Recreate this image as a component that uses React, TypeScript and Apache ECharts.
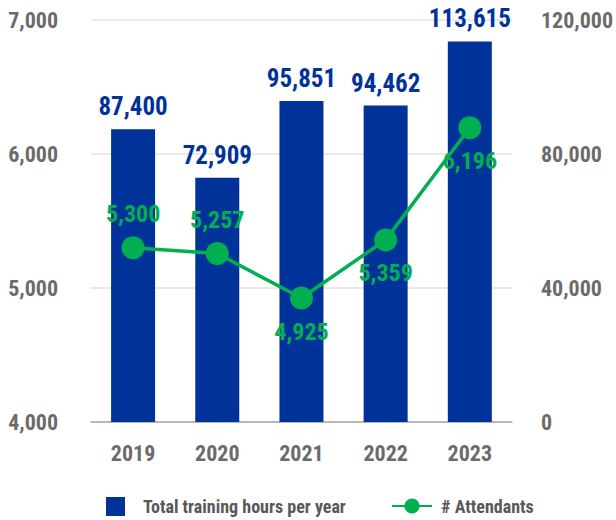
import React, { useEffect, useRef } from "react";
import * as echarts from "echarts";

const years = ["2019", "2020", "2021", "2022", "2023"];
const trainingHours = [87400, 72909, 95851, 94462, 113615];
const attendants = [5300, 5257, 4925, 5359, 6196];
const attendantLabelPos = ["top", "top", "bottom", "bottom", "bottom"];

const FONT = "'Liberation Sans Narrow', 'Arial Narrow', 'Roboto Condensed', 'Liberation Sans', sans-serif";
const BLUE = "#003399";
const GREEN = "#00B050";
const GRAY = "#6b6b6b";
const fmt = (v: number) => v.toLocaleString("en-US");

export default function App() {
  const ref = useRef<HTMLDivElement>(null);
  useEffect(() => {
    if (!ref.current) return;
    const chart = echarts.init(ref.current, null, { renderer: "svg" });
    chart.setOption({
      animation: false,
      textStyle: { fontFamily: FONT },
      grid: { left: 91, right: 101, top: 20, bottom: 98 },
      legend: [
        {
          data: [{ name: "Total training hours per year", icon: "rect" }],
          left: 106,
          top: 497,
          padding: 0,
          itemWidth: 19,
          itemHeight: 19,
          textStyle: { color: "#595959", fontSize: 18, fontWeight: "bold", fontFamily: FONT, padding: [0, 0, 0, 13] },
        },
        {
          data: ["# Attendants"],
          left: 391,
          top: 497,
          padding: 0,
          itemWidth: 40,
          itemHeight: 19,
          textStyle: { color: "#595959", fontSize: 18, fontWeight: "bold", fontFamily: FONT, padding: [0, 0, 0, 4] },
        },
      ],
      xAxis: {
        type: "category",
        data: years,
        axisTick: { show: false },
        axisLine: { lineStyle: { color: "#a6a6a6", width: 1.5 } },
        axisLabel: { color: GRAY, fontSize: 22, fontWeight: "bold", margin: 20, fontFamily: FONT },
      },
      yAxis: [
        {
          type: "value",
          min: 4000,
          max: 7000,
          interval: 1000,
          position: "left",
          axisLabel: { color: GRAY, fontSize: 22, fontWeight: "bold", margin: 33, formatter: (v: number) => fmt(v), fontFamily: FONT },
          splitLine: { lineStyle: { color: "#e3e3e3", width: 1.5 } },
          axisLine: { show: false },
          axisTick: { show: false },
        },
        {
          type: "value",
          min: 0,
          max: 120000,
          interval: 40000,
          position: "right",
          axisLabel: { color: GRAY, fontSize: 22, fontWeight: "bold", margin: 29, formatter: (v: number) => fmt(v), fontFamily: FONT },
          splitLine: { show: false },
          axisLine: { show: false },
          axisTick: { show: false },
        },
      ],
      series: [
        {
          name: "Total training hours per year",
          type: "bar",
          yAxisIndex: 1,
          data: trainingHours,
          barWidth: 44,
          itemStyle: { color: BLUE },
          label: {
            show: true,
            position: "top",
            distance: 10,
            color: BLUE,
            fontSize: 25,
            fontWeight: "bold",
            fontFamily: FONT,
            formatter: (p: any) => fmt(p.value),
          },
          z: 1,
        },
        {
          name: "# Attendants",
          type: "line",
          yAxisIndex: 0,
          data: attendants.map((v, i) => ({
            value: v,
            label: { position: attendantLabelPos[i] },
          })),
          symbol: "circle",
          symbolSize: 23,
          lineStyle: { color: GREEN, width: 3.5 },
          itemStyle: { color: GREEN },
          label: {
            show: true,
            distance: 10,
            color: GREEN,
            fontSize: 24,
            fontWeight: "bold",
            fontFamily: FONT,
            formatter: (p: any) => fmt(p.value),
          },
          z: 3,
        },
      ],
    });
    return () => chart.dispose();
  }, []);
  return <div ref={ref} style={{ width: 616, height: 520, position: "absolute", left: 0, top: 0 }} />;
}
